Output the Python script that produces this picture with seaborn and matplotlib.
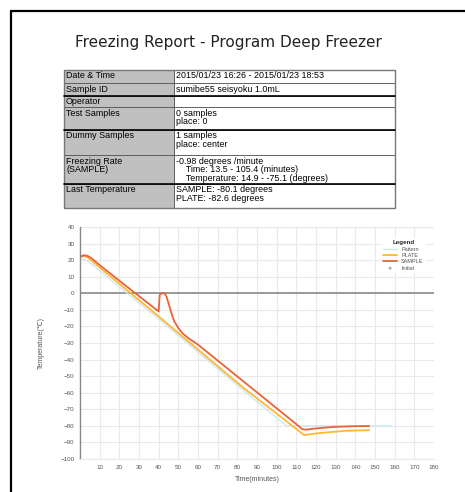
import matplotlib
matplotlib.use("Agg")
import matplotlib.pyplot as plt
from matplotlib.patches import Rectangle
import numpy as np
import pandas as pd
import seaborn as sns

# ---- report table ----
row_labels = ["Date & Time", "Sample ID", "Operator", "Test Samples",
              "Dummy Samples", "Freezing Rate\n(SAMPLE)", "Last Temperature"]
row_values = [
    "2015/01/23 16:26 - 2015/01/23 18:53",
    "sumibe55 seisyoku 1.0mL",
    "",
    "0 samples\nplace: 0",
    "1 samples\nplace: center",
    "-0.98 degrees /minute\n    Time: 13.5 - 105.4 (minutes)\n    Temperature: 14.9 - -75.1 (degrees)",
    "SAMPLE: -80.1 degrees\nPLATE: -82.6 degrees",
]

# ---- curves (minutes, degrees C) ----
pattern_t = [0, 4, 40, 82, 105, 158]
pattern_v = [21.5, 19.5, -15.5, -57.5, -80, -80]

plate_t = [0, 2, 4, 40, 82, 114, 117, 125, 135, 147]
plate_v = [22, 22.5, 21.5, -14, -56, -85.6, -85, -84, -83, -82.6]

sample_t = [0, 2, 4, 6, 10, 20, 30, 40, 40.5, 41.5, 43, 44, 45, 46, 47, 48,
            50, 52, 55, 60, 70, 80, 90, 100, 110, 113, 115, 118, 125, 130, 140, 147]
sample_v = [22, 23, 22.5, 21, 17, 7.6, -1.7, -11, -1, 0, 0, -2, -6, -10, -14, -17,
            -21, -24, -27, -31, -40.6, -50.2, -59.8, -69.4, -79, -82, -82.3, -81.8,
            -81, -80.6, -80.2, -80.1]

initial_t = [0]
initial_v = [22]

W, H = 465, 492
fig = plt.figure(figsize=(W / 100, H / 100), dpi=100)
sns.set_style("white")
plt.rcParams["font.family"] = ["Liberation Sans", "DejaVu Sans"]

bg = fig.add_axes([0, 0, 1, 1])
bg.set_xlim(0, W)
bg.set_ylim(H, 0)
bg.axis("off")

# page border
bg.plot([11, 11], [11, H], color="black", lw=1.6)
bg.plot([11, W], [11, 11], color="black", lw=1.6)

bg.text(228, 42, "Freezing Report - Program Deep Freezer", ha="center", va="center",
        fontsize=11, color="#222222", family=["DejaVu Sans"])

# table geometry
x0, xm, x1 = 64, 174, 395
row_edges = [70, 83, 96, 107, 130, 155, 184, 208]
thick_after = {1, 3, 5}
for i, (lab, val) in enumerate(zip(row_labels, row_values)):
    top, bot = row_edges[i], row_edges[i + 1]
    bg.add_patch(Rectangle((x0, top), xm - x0, bot - top, facecolor="#c0c0c0",
                           edgecolor="#555555", lw=0.6))
    bg.add_patch(Rectangle((xm, top), x1 - xm, bot - top, facecolor="white",
                           edgecolor="#555555", lw=0.6))
    bg.text(x0 + 2, top + 1.5, lab, ha="left", va="top", fontsize=6.4,
            linespacing=0.95, color="black")
    bg.text(xm + 2, top + 1.5, val, ha="left", va="top", fontsize=6.4,
            linespacing=0.95, color="black")
    if i in thick_after:
        bg.plot([x0, x1], [bot, bot], color="black", lw=1.2)
bg.add_patch(Rectangle((x0, row_edges[0]), x1 - x0, row_edges[-1] - row_edges[0],
                       facecolor="none", edgecolor="#777777", lw=1.0))

# ---- chart ----
ax = fig.add_axes([80 / W, 1 - 459 / H, 354 / W, 232 / H])
ax.set_facecolor("white")

sns.lineplot(x=pattern_t, y=pattern_v, ax=ax, color="#cde8f4", lw=1.0, label="Pattern")
sns.lineplot(x=plate_t, y=plate_v, ax=ax, color="#ffb833", lw=1.3, label="PLATE")
sns.lineplot(x=sample_t, y=sample_v, ax=ax, color="#e8643a", lw=1.3, label="SAMPLE")
sns.scatterplot(x=initial_t, y=initial_v, ax=ax, color="#aaaaaa", s=2, marker="o",
                label="Initial", zorder=0, edgecolor="none")

ax.set_xlim(0, 180)
ax.set_ylim(-100, 40)
ax.set_xticks(np.arange(10, 181, 10))
ax.set_yticks(np.arange(-100, 41, 10))
ax.grid(True, color="#e9e9e9", lw=0.8)
ax.axhline(0, color="#999999", lw=1.4, zorder=1)
for s in ["top", "right"]:
    ax.spines[s].set_visible(False)
ax.spines["bottom"].set_color("#e9e9e9")
ax.spines["left"].set_color("#888888")
ax.spines["left"].set_linewidth(1.0)
ax.tick_params(axis="both", labelsize=4.5, labelcolor="#555555", colors="#888888",
               length=2.5, width=0.6, pad=1.5)
ax.tick_params(axis="x", colors="#bbbbbb", labelcolor="#555555")

ax.set_xlabel("Time(minutes)", fontsize=5, color="#555555")
ax.set_ylabel("Temperature(℃)", fontsize=5, color="#555555")
ax.xaxis.set_label_coords(0.5, -0.075)
ax.yaxis.set_label_coords(-0.1, 0.5)

leg = ax.legend(title="Legend", loc="upper right", bbox_to_anchor=(0.985, 0.965),
                fontsize=4, title_fontsize=4.5, frameon=True, facecolor="white",
                edgecolor="none", framealpha=0.9, handlelength=2.4,
                labelspacing=0.25, borderpad=0.4, markerscale=1.5)
leg.get_title().set_fontweight("bold")
for t in leg.get_texts():
    t.set_color("#555555")

fig.savefig("out.png", dpi=100)
